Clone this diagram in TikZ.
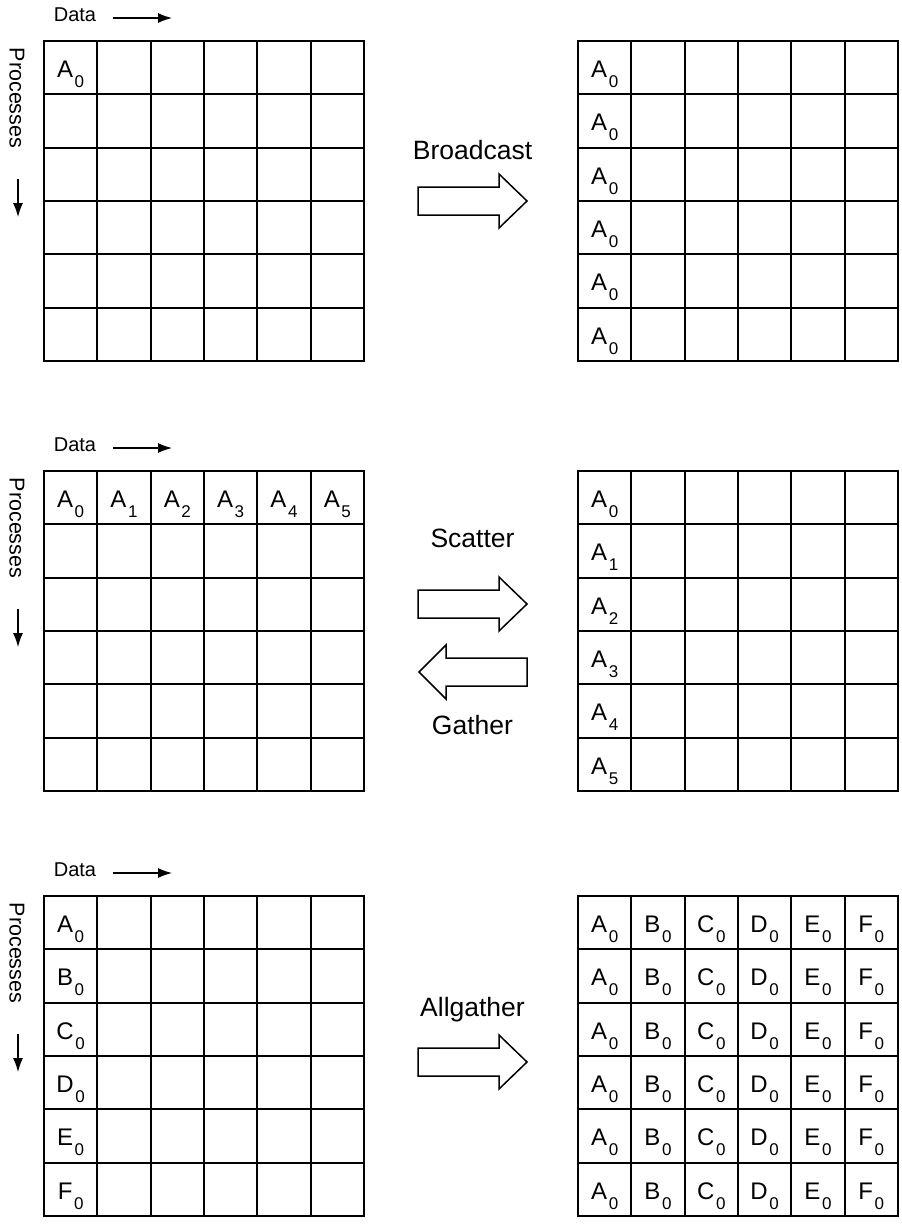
\documentclass[tikz,border=0pt]{standalone}
\usepackage{fontspec}
\setmainfont{Liberation Sans}
\usetikzlibrary{arrows.meta}
\newcommand\mygrid[2]{% x0, y0
  \draw[gridline] (#1,#2) rectangle ++(320,320);
  \foreach \i in {1,...,5} {
    \draw[gridline] ({#1+\i*320/6},#2) -- ++(0,320);
    \draw[gridline] (#1,{#2+\i*320/6}) -- ++(320,0);
  }%
}
\newcommand\sublab[2]{#1\kern1.6pt\raisebox{-10pt}{\fontsize{17}{17}\selectfont #2}}
% name, x0, y0, col, row, letter, sub
\newcommand\putlab[7]{%
  \node[lab] (#1) at ({#2+(#4+0.5)*320/6},{#3+#5*320/6+36.5}) {\sublab{#6}{#7}};%
}
\newcommand\rightblock[1]{%
  \draw[blockarrow] (418,#1-14) -- (499,#1-14) -- (499,#1-27) -- (527,#1) -- (499,#1+27) -- (499,#1+14) -- (418,#1+14) -- cycle;%
}
\newcommand\leftblock[1]{%
  \draw[blockarrow] (527,#1-14) -- (446,#1-14) -- (446,#1-27) -- (419,#1) -- (446,#1+27) -- (446,#1+14) -- (527,#1+14) -- cycle;%
}
\newcommand\axes[2]{% name suffix, top y
  \node[datafont] (data#1) at (75,#2-26) {Data};
  \coordinate (ds#1) at (113,#2-23);
  \coordinate (de#1) at (172,#2-23);
  \draw[axisarrow] (ds#1) -- (de#1);
  \node[procfont, rotate=-90] (proc#1) at (17,#2+57) {Processes};
  \coordinate (ps#1) at (18,#2+138);
  \coordinate (pe#1) at (18,#2+176);
  \draw[axisarrow] (ps#1) -- (pe#1);
}
\begin{document}
\begin{tikzpicture}[x=1pt,y=-1pt,
  gridline/.style={line width=2pt, line cap=rect},
  blockarrow/.style={line width=1.5pt, fill=white, line join=miter},
  lab/.style={font=\fontsize{24}{24}\selectfont, inner sep=0pt, anchor=base},
  datafont/.style={font=\fontsize{20}{20}\selectfont, inner sep=0pt},
  procfont/.style={font=\fontsize{21.5}{21.5}\selectfont, inner sep=0pt},
  opname/.style={font=\fontsize{26.5}{26.5}\selectfont, inner sep=0pt},
  axisarrow/.style={line width=1.2pt, -{Latex[length=14pt,width=10pt]}}]
\useasboundingbox (0,0) rectangle (902,1226);
\fill[white] (0,0) rectangle (902,1226);

% ---------- Broadcast ----------
\axes{1}{41}
\mygrid{44}{41}
\mygrid{578}{41}
\putlab{bl}{44}{41}{0}{0}{A}{0}
\foreach \r in {0,...,5} {\putlab{br\r}{578}{41}{0}{\r}{A}{0}}
\node[opname] (bcast) at (472.5,150) {Broadcast};
\rightblock{201}

% ---------- Scatter / Gather ----------
\axes{2}{471}
\mygrid{44}{471}
\mygrid{578}{471}
\foreach \c in {0,...,5} {\putlab{sl\c}{44}{471}{\c}{0}{A}{\c}}
\foreach \r in {0,...,5} {\putlab{sr\r}{578}{471}{0}{\r}{A}{\r}}
\node[opname] (scatter) at (472.5,538) {Scatter};
\rightblock{604}
\leftblock{672}
\node[opname] (gather) at (472.5,725) {Gather};

% ---------- Allgather ----------
\axes{3}{896}
\mygrid{44}{896}
\mygrid{578}{896}
\foreach \L [count=\r from 0] in {A,B,C,D,E,F} {
  \putlab{gl\r}{44}{896}{0}{\r}{\L}{0}
  \foreach \c/\M in {0/A,1/B,2/C,3/D,4/E,5/F} {\putlab{gr\r\c}{578}{896}{\c}{\r}{\M}{0}}
}
\node[opname] (allg) at (472.5,1010) {Allgather};
\rightblock{1062}
\end{tikzpicture}
\end{document}
